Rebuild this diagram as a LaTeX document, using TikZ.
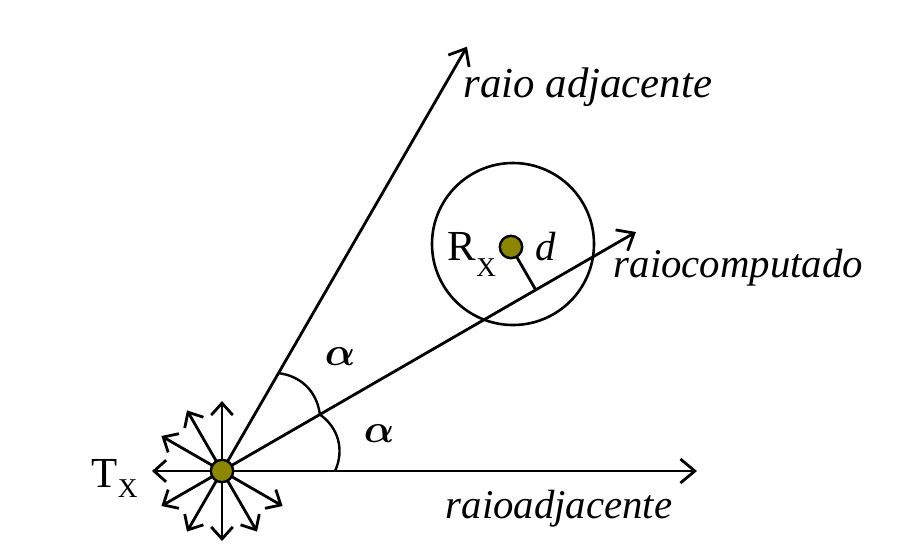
\documentclass[tikz,border=0pt]{standalone}
\usepackage{fontspec}
\setmainfont{Liberation Serif}
\usepackage{bm}
\usetikzlibrary{arrows.meta, calc}

\tikzset{
  raio/.style={line width=0.7pt, -{Straight Barb[length=3.6pt,width=6pt]}},
  seta/.style={line width=0.7pt, -{Straight Barb[length=3pt,width=5.4pt]}},
  antena/.style={circle, draw, line width=0.6pt, fill=olive, minimum size=5.6pt, inner sep=0pt},
  rotulo/.style={font=\fontsize{10.2}{12}\selectfont\itshape, inner sep=0pt, anchor=base west},
}

\begin{document}
\begin{tikzpicture}[x=0.25pt, y=0.25pt]
  \useasboundingbox (0,0) rectangle (902,550);
  \def\r{113}   % raio dos arcos
  \def\s{70}    % comprimento das setas

  % transmissor e receptor
  \coordinate (Tx) at (222,79);
  \coordinate (Rx) at (511,303);
  \coordinate (Cx) at (513,306);

  % pontas dos raios
  \coordinate (adjSup) at ($(Tx)+(60:490)$);
  \coordinate (comp)   at ($(Tx)+(30:478)$);
  \coordinate (adjInf) at ($(Tx)+(0:475)$);

  % arcos alfa
  \coordinate (a0)  at ($(Tx)+(0:\r)$);
  \coordinate (a30) at ($(Tx)+(30:\r)$);
  \coordinate (a60) at ($(Tx)+(60:\r)$);
  \draw[line width=0.6pt] (a0) to[bend right=40] (a30);
  \draw[line width=0.6pt] (a30) to[bend right=38] (a60);

  % raios
  \draw[raio] (Tx) -- (adjSup);
  \draw[raio] (Tx) -- (comp);
  \draw[raio] (Tx) -- (adjInf);

  % setas em volta do Tx
  \foreach \ang in {90,120,...,330}{
    \coordinate (s\ang) at ($(Tx)+(\ang:\s)$);
    \draw[seta] (Tx) -- (s\ang);
  }

  % circulo do receptor
  \draw[line width=0.65pt] (Cx) circle (81);

  % distancia d
  \coordinate (pe) at ($(Tx)!(Rx)!(comp)$);
  \draw[line width=0.7pt] (Rx) -- (pe);

  % antenas
  \node[antena] (tx) at (Tx) {};
  \node[antena] (rx) at (Rx) {};

  % rotulos
  \node[rotulo, font=\fontsize{10.7}{12}\selectfont\itshape] (lAdjSup) at (463,453) {raio adjacente};
  \node[rotulo] (lComp)   at (613,273) {raiocomputado};
  \node[rotulo] (lAdjInf) at (445,32)  {raioadjacente};
  \node[rotulo, font=\fontsize{10.7}{12}\selectfont] (lTx) at (91,63)
    {T\raisebox{-0.55ex}{\fontsize{6.8}{7}\selectfont X}};
  \node[rotulo, font=\fontsize{10.7}{12}\selectfont] (lRx) at (447,290)
    {R\raisebox{-0.85ex}{\fontsize{6.8}{7}\selectfont X}};
  \node[rotulo] (ld) at (535,290) {d};
  \node[inner sep=0pt] (alfa1) at (340,193) {$\bm{\alpha}$};
  \node[inner sep=0pt] (alfa2) at (379,116) {$\bm{\alpha}$};
\end{tikzpicture}
\end{document}
